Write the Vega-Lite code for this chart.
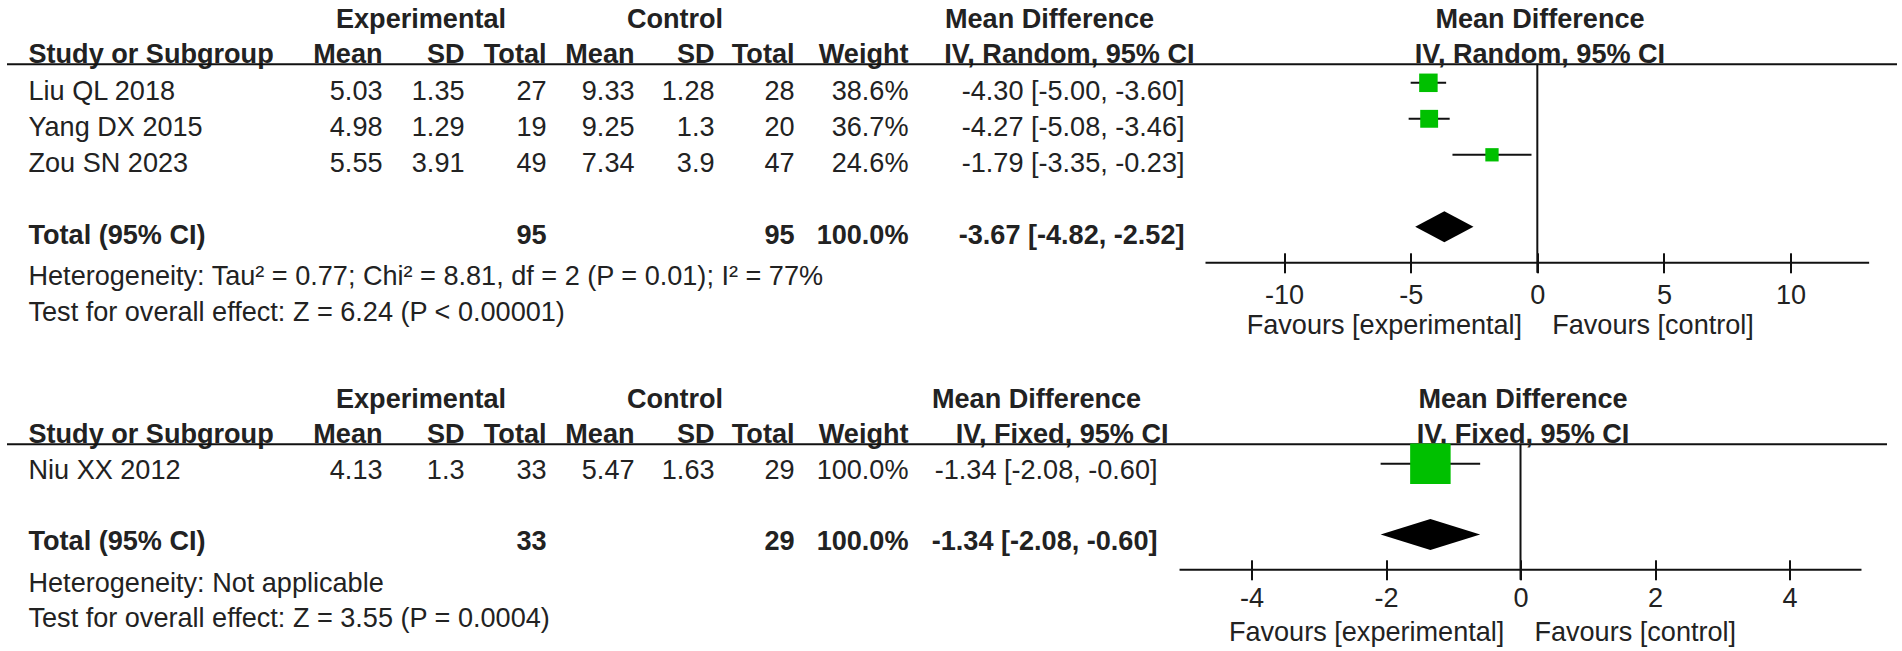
{
  "$schema": "https://vega.github.io/schema/vega-lite/v6.json",
  "padding": {"left": 6.5, "top": 4.8, "right": 0, "bottom": 0},
  "background": "white",
  "columns": 6,
  "align": {"row": "all", "column": "none"},
  "bounds": "flush",
  "spacing": {"row": 91, "column": 0},
  "resolve": {"scale": {"size": "independent"}},
  "datasets": {
    "top": [
      {"label": "Liu QL 2018", "meanE": 5.03, "sdE": 1.35, "totalE": 27, "meanC": 9.33, "sdC": 1.28, "totalC": 28, "weight": 0.386, "md": -4.3, "lo": -5.0, "hi": -3.6, "ci": "-4.30 [-5.00, -3.60]"},
      {"label": "Yang DX 2015", "meanE": 4.98, "sdE": 1.29, "totalE": 19, "meanC": 9.25, "sdC": 1.3, "totalC": 20, "weight": 0.367, "md": -4.27, "lo": -5.08, "hi": -3.46, "ci": "-4.27 [-5.08, -3.46]"},
      {"label": "Zou SN 2023", "meanE": 5.55, "sdE": 3.91, "totalE": 49, "meanC": 7.34, "sdC": 3.9, "totalC": 47, "weight": 0.246, "md": -1.79, "lo": -3.35, "hi": -0.23, "ci": "-1.79 [-3.35, -0.23]"}
    ],
    "topTotal": [
      {"label": "Total (95% CI)", "totalE": 95, "totalC": 95, "weight": 1, "md": -3.67, "lo": -4.82, "hi": -2.52, "ci": "-3.67 [-4.82, -2.52]"}
    ],
    "topNotes": [
      {"key": "het", "label": "Heterogeneity: Tau² = 0.77; Chi² = 8.81, df = 2 (P = 0.01); I² = 77%"},
      {"key": "test", "label": "Test for overall effect: Z = 6.24 (P < 0.00001)"}
    ],
    "bot": [
      {"label": "Niu XX 2012", "meanE": 4.13, "sdE": 1.3, "totalE": 33, "meanC": 5.47, "sdC": 1.63, "totalC": 29, "weight": 1, "md": -1.34, "lo": -2.08, "hi": -0.6, "ci": "-1.34 [-2.08, -0.60]"}
    ],
    "botTotal": [
      {"label": "Total (95% CI)", "totalE": 33, "totalC": 29, "weight": 1, "md": -1.34, "lo": -2.08, "hi": -0.6, "ci": "-1.34 [-2.08, -0.60]"}
    ],
    "botNotes": [
      {"key": "het", "label": "Heterogeneity: Not applicable"},
      {"key": "test", "label": "Test for overall effect: Z = 3.55 (P = 0.0004)"}
    ]
  },
  "concat": [
    {
      "width": 294, "height": 289,
      "encoding": {
        "x": {"field": "col", "type": "nominal", "bandPosition": 0,
          "scale": {"type": "band", "domain": ["label"], "paddingInner": 0, "paddingOuter": 0},
          "axis": {"orient": "top", "domainWidth": 2, "ticks": false, "tickSize": 0, "labelExpr": "'Study or Subgroup'", "labelAlign": "left", "labelBaseline": "alphabetic", "labelPadding": 1.3, "labelOffset": -125, "labelFontWeight": "bold", "title": null}},
        "y": {"field": "label", "type": "nominal", "scale": {"type": "point", "domain": ["Liu QL 2018", "Yang DX 2015", "Zou SN 2023", "gap", "Total (95% CI)", "het", "test"], "padding": 1.1}, "axis": null}
      },
      "layer": [
        {"data": {"name": "top"}, "transform": [{"fold": ["label"], "as": ["col", "value"]}],
         "mark": {"type": "text", "align": "left", "dx": 22},
         "encoding": {"text": {"field": "value", "type": "nominal"}}},
        {"data": {"name": "topTotal"}, "transform": [{"fold": ["label"], "as": ["col", "value"]}],
         "mark": {"type": "text", "align": "left", "dx": 22, "fontWeight": "bold"},
         "encoding": {"text": {"field": "value", "type": "nominal"}}},
        {"data": {"name": "topNotes"}, "transform": [{"fold": ["label"], "as": ["col", "value"]}],
         "mark": {"type": "text", "align": "left", "dx": 22, "dy": 4},
         "encoding": {"y": {"field": "key", "type": "nominal", "axis": null}, "text": {"field": "value", "type": "nominal"}}}
      ]
    },
    {
      "width": 246, "height": 289,
      "encoding": {
        "x": {"field": "col", "type": "nominal", "bandPosition": 1,
          "scale": {"type": "band", "domain": ["meanE", "sdE", "totalE"], "paddingInner": 0, "paddingOuter": 0},
          "axis": {"orient": "top", "domainWidth": 2, "ticks": false, "tickSize": 0, "labelExpr": "datum.value == 'meanE' ? 'Mean' : datum.value == 'sdE' ? 'SD' : 'Total'", "labelAlign": "right", "labelBaseline": "alphabetic", "labelPadding": 1.3, "labelOffset": 41, "labelFontWeight": "bold", "title": "Experimental", "titleBaseline": "alphabetic", "titleAlign": "center", "titleX": 120, "titleY": -36.7}},
        "y": {"field": "label", "type": "nominal", "scale": {"type": "point", "domain": ["Liu QL 2018", "Yang DX 2015", "Zou SN 2023", "gap", "Total (95% CI)", "het", "test"], "padding": 1.1}, "axis": null}
      },
      "layer": [
        {"data": {"name": "top"}, "transform": [{"fold": ["meanE", "sdE", "totalE"], "as": ["col", "value"]}],
         "mark": {"type": "text", "align": "right"},
         "encoding": {"text": {"field": "value", "type": "nominal"}}},
        {"data": {"name": "topTotal"}, "transform": [{"fold": ["totalE"], "as": ["col", "value"]}],
         "mark": {"type": "text", "align": "right", "fontWeight": "bold"},
         "encoding": {"text": {"field": "value", "type": "nominal"}}}
      ]
    },
    {
      "width": 250, "height": 289,
      "encoding": {
        "x": {"field": "col", "type": "nominal", "bandPosition": 1,
          "scale": {"type": "band", "domain": ["meanC", "sdC", "totalC"], "paddingInner": 0, "paddingOuter": 0.0625, "align": 0.8},
          "axis": {"orient": "top", "domainWidth": 2, "ticks": false, "tickSize": 0, "labelExpr": "datum.value == 'meanC' ? 'Mean' : datum.value == 'sdC' ? 'SD' : 'Total'", "labelAlign": "right", "labelBaseline": "alphabetic", "labelPadding": 1.3, "labelOffset": 40, "labelFontWeight": "bold", "title": "Control", "titleBaseline": "alphabetic", "titleAlign": "center", "titleX": 128, "titleY": -36.7}},
        "y": {"field": "label", "type": "nominal", "scale": {"type": "point", "domain": ["Liu QL 2018", "Yang DX 2015", "Zou SN 2023", "gap", "Total (95% CI)", "het", "test"], "padding": 1.1}, "axis": null}
      },
      "layer": [
        {"data": {"name": "top"}, "transform": [{"fold": ["meanC", "sdC", "totalC"], "as": ["col", "value"]}],
         "mark": {"type": "text", "align": "right"},
         "encoding": {"text": {"field": "value", "type": "nominal"}}},
        {"data": {"name": "topTotal"}, "transform": [{"fold": ["totalC"], "as": ["col", "value"]}],
         "mark": {"type": "text", "align": "right", "fontWeight": "bold"},
         "encoding": {"text": {"field": "value", "type": "nominal"}}}
      ]
    },
    {
      "width": 112, "height": 289,
      "encoding": {
        "x": {"field": "col", "type": "nominal", "bandPosition": 1,
          "scale": {"type": "band", "domain": ["weight"], "paddingInner": 0, "paddingOuter": 0},
          "axis": {"orient": "top", "domainWidth": 2, "ticks": false, "tickSize": 0, "labelExpr": "'Weight'", "labelAlign": "right", "labelBaseline": "alphabetic", "labelPadding": 1.3, "labelOffset": 56, "labelFontWeight": "bold", "title": null}},
        "y": {"field": "label", "type": "nominal", "scale": {"type": "point", "domain": ["Liu QL 2018", "Yang DX 2015", "Zou SN 2023", "gap", "Total (95% CI)", "het", "test"], "padding": 1.1}, "axis": null}
      },
      "layer": [
        {"data": {"name": "top"}, "transform": [{"fold": ["weight"], "as": ["col", "value"]}],
         "mark": {"type": "text", "align": "right"},
         "encoding": {"text": {"field": "value", "type": "quantitative", "format": ".1%"}}},
        {"data": {"name": "topTotal"}, "transform": [{"fold": ["weight"], "as": ["col", "value"]}],
         "mark": {"type": "text", "align": "right", "fontWeight": "bold"},
         "encoding": {"text": {"field": "value", "type": "quantitative", "format": ".1%"}}}
      ]
    },
    {
      "width": 297, "height": 289,
      "encoding": {
        "x": {"field": "col", "type": "nominal", "bandPosition": 1,
          "scale": {"type": "band", "domain": ["ci"], "paddingInner": 0, "paddingOuter": 0.03804, "align": 0},
          "axis": {"orient": "top", "domainWidth": 2, "ticks": false, "tickSize": 0, "labelExpr": "'IV, Random, 95% CI'", "labelAlign": "right", "labelBaseline": "alphabetic", "labelPadding": 1.3, "labelOffset": 148, "labelFontWeight": "bold", "title": "Mean Difference", "titleBaseline": "alphabetic", "titleAlign": "left", "titleX": 36, "titleY": -36.7}},
        "y": {"field": "label", "type": "nominal", "scale": {"type": "point", "domain": ["Liu QL 2018", "Yang DX 2015", "Zou SN 2023", "gap", "Total (95% CI)", "het", "test"], "padding": 1.1}, "axis": null}
      },
      "layer": [
        {"data": {"name": "top"}, "transform": [{"fold": ["ci"], "as": ["col", "value"]}],
         "mark": {"type": "text", "align": "right"},
         "encoding": {"text": {"field": "value", "type": "nominal"}}},
        {"data": {"name": "topTotal"}, "transform": [{"fold": ["ci"], "as": ["col", "value"]}],
         "mark": {"type": "text", "align": "right", "fontWeight": "bold"},
         "encoding": {"text": {"field": "value", "type": "nominal"}}}
      ]
    },
    {
      "width": 691, "height": 209,
      "resolve": {"axis": {"x": "independent"}},
      "layer": [
        {
          "data": {"name": "topTotal"},
          "mark": {"type": "rule", "strokeWidth": 2, "color": "#111111"},
          "encoding": {
            "x": {"datum": 0, "type": "quantitative",
              "scale": {"domain": [-13.1, 14.18], "nice": false, "zero": false},
              "axis": {"orient": "top", "domainWidth": 2, "labels": false, "ticks": false, "tickSize": 0, "grid": false, "title": ["Mean Difference", "IV, Random, 95% CI"], "titleBaseline": "alphabetic", "titleAlign": "center", "titleX": 334, "titleY": -36.7, "titleLineHeight": 35.4}}
          }
        },
        {
          "data": {"name": "topTotal"},
          "mark": {"type": "rule", "strokeWidth": 2, "color": "#111111"},
          "encoding": {
            "x": {"datum": -13.1, "type": "quantitative",
              "axis": {"orient": "bottom", "values": [-10, -5, 0, 5, 10], "labelExpr": "'' + datum.value", "domain": false, "ticks": true, "tickSize": 20, "tickWidth": 2, "tickColor": "#111111", "offset": -20, "labelBaseline": "alphabetic", "labelPadding": 30.4, "labelFontWeight": "normal", "grid": false, "title": "Favours [experimental]\u00a0\u00a0\u00a0\u00a0Favours [control]", "titleFontWeight": "normal", "titleBaseline": "alphabetic", "titleAlign": "center", "titleX": 294.3, "titleY": 80.9}},
            "x2": {"datum": 13.1},
            "y": {"datum": "axis", "type": "nominal",
              "scale": {"type": "point", "domain": ["Liu QL 2018", "Yang DX 2015", "Zou SN 2023", "gap", "Total (95% CI)", "axis"], "padding": 0.4028, "align": 0.6552},
              "axis": null}
          }
        },
        {
          "data": {"name": "top"},
          "mark": {"type": "rule", "strokeWidth": 2, "color": "#111111"},
          "encoding": {
            "x": {"field": "lo", "type": "quantitative", "axis": null},
            "x2": {"field": "hi"},
            "y": {"field": "label", "type": "nominal", "axis": null}
          }
        },
        {
          "data": {"name": "top"},
          "mark": {"type": "point", "shape": "square", "filled": true, "color": "#00c000", "opacity": 1},
          "encoding": {
            "x": {"field": "md", "type": "quantitative", "axis": null},
            "y": {"field": "label", "type": "nominal", "axis": null},
            "size": {"field": "weight", "type": "quantitative", "scale": {"domain": [0.246, 0.386], "range": [177, 342], "zero": false}, "legend": null}
          }
        },
        {
          "data": {"name": "topTotal"},
          "mark": {"type": "point", "shape": "M -1 0 L 0 -0.532 L 1 0 L 0 0.532 Z", "size": 3394, "filled": true, "color": "#000000", "opacity": 1},
          "encoding": {
            "x": {"field": "md", "type": "quantitative", "axis": null},
            "y": {"field": "label", "type": "nominal", "axis": null}
          }
        }
      ]
    },
    {
      "width": 294, "height": 213,
      "encoding": {
        "x": {"field": "col", "type": "nominal", "bandPosition": 0,
          "scale": {"type": "band", "domain": ["label"], "paddingInner": 0, "paddingOuter": 0},
          "axis": {"orient": "top", "domainWidth": 2, "ticks": false, "tickSize": 0, "labelExpr": "'Study or Subgroup'", "labelAlign": "left", "labelBaseline": "alphabetic", "labelPadding": 1.3, "labelOffset": -125, "labelFontWeight": "bold", "title": null}},
        "y": {"field": "label", "type": "nominal", "scale": {"type": "point", "domain": ["Niu XX 2012", "gap", "Total (95% CI)", "het", "test"], "padding": 1.1095}, "axis": null}
      },
      "layer": [
        {"data": {"name": "bot"}, "transform": [{"fold": ["label"], "as": ["col", "value"]}],
         "mark": {"type": "text", "align": "left", "dx": 22},
         "encoding": {"text": {"field": "value", "type": "nominal"}}},
        {"data": {"name": "botTotal"}, "transform": [{"fold": ["label"], "as": ["col", "value"]}],
         "mark": {"type": "text", "align": "left", "dx": 22, "fontWeight": "bold"},
         "encoding": {"text": {"field": "value", "type": "nominal"}}},
        {"data": {"name": "botNotes"}, "transform": [{"fold": ["label"], "as": ["col", "value"]}],
         "mark": {"type": "text", "align": "left", "dx": 22, "dy": 6},
         "encoding": {"y": {"field": "key", "type": "nominal", "axis": null}, "text": {"field": "value", "type": "nominal"}}}
      ]
    },
    {
      "width": 246, "height": 213,
      "encoding": {
        "x": {"field": "col", "type": "nominal", "bandPosition": 1,
          "scale": {"type": "band", "domain": ["meanE", "sdE", "totalE"], "paddingInner": 0, "paddingOuter": 0},
          "axis": {"orient": "top", "domainWidth": 2, "ticks": false, "tickSize": 0, "labelExpr": "datum.value == 'meanE' ? 'Mean' : datum.value == 'sdE' ? 'SD' : 'Total'", "labelAlign": "right", "labelBaseline": "alphabetic", "labelPadding": 1.3, "labelOffset": 41, "labelFontWeight": "bold", "title": "Experimental", "titleBaseline": "alphabetic", "titleAlign": "center", "titleX": 120, "titleY": -36.7}},
        "y": {"field": "label", "type": "nominal", "scale": {"type": "point", "domain": ["Niu XX 2012", "gap", "Total (95% CI)", "het", "test"], "padding": 1.1095}, "axis": null}
      },
      "layer": [
        {"data": {"name": "bot"}, "transform": [{"fold": ["meanE", "sdE", "totalE"], "as": ["col", "value"]}],
         "mark": {"type": "text", "align": "right"},
         "encoding": {"text": {"field": "value", "type": "nominal"}}},
        {"data": {"name": "botTotal"}, "transform": [{"fold": ["totalE"], "as": ["col", "value"]}],
         "mark": {"type": "text", "align": "right", "fontWeight": "bold"},
         "encoding": {"text": {"field": "value", "type": "nominal"}}}
      ]
    },
    {
      "width": 250, "height": 213,
      "encoding": {
        "x": {"field": "col", "type": "nominal", "bandPosition": 1,
          "scale": {"type": "band", "domain": ["meanC", "sdC", "totalC"], "paddingInner": 0, "paddingOuter": 0.0625, "align": 0.8},
          "axis": {"orient": "top", "domainWidth": 2, "ticks": false, "tickSize": 0, "labelExpr": "datum.value == 'meanC' ? 'Mean' : datum.value == 'sdC' ? 'SD' : 'Total'", "labelAlign": "right", "labelBaseline": "alphabetic", "labelPadding": 1.3, "labelOffset": 40, "labelFontWeight": "bold", "title": "Control", "titleBaseline": "alphabetic", "titleAlign": "center", "titleX": 128, "titleY": -36.7}},
        "y": {"field": "label", "type": "nominal", "scale": {"type": "point", "domain": ["Niu XX 2012", "gap", "Total (95% CI)", "het", "test"], "padding": 1.1095}, "axis": null}
      },
      "layer": [
        {"data": {"name": "bot"}, "transform": [{"fold": ["meanC", "sdC", "totalC"], "as": ["col", "value"]}],
         "mark": {"type": "text", "align": "right"},
         "encoding": {"text": {"field": "value", "type": "nominal"}}},
        {"data": {"name": "botTotal"}, "transform": [{"fold": ["totalC"], "as": ["col", "value"]}],
         "mark": {"type": "text", "align": "right", "fontWeight": "bold"},
         "encoding": {"text": {"field": "value", "type": "nominal"}}}
      ]
    },
    {
      "width": 112, "height": 213,
      "encoding": {
        "x": {"field": "col", "type": "nominal", "bandPosition": 1,
          "scale": {"type": "band", "domain": ["weight"], "paddingInner": 0, "paddingOuter": 0},
          "axis": {"orient": "top", "domainWidth": 2, "ticks": false, "tickSize": 0, "labelExpr": "'Weight'", "labelAlign": "right", "labelBaseline": "alphabetic", "labelPadding": 1.3, "labelOffset": 56, "labelFontWeight": "bold", "title": null}},
        "y": {"field": "label", "type": "nominal", "scale": {"type": "point", "domain": ["Niu XX 2012", "gap", "Total (95% CI)", "het", "test"], "padding": 1.1095}, "axis": null}
      },
      "layer": [
        {"data": {"name": "bot"}, "transform": [{"fold": ["weight"], "as": ["col", "value"]}],
         "mark": {"type": "text", "align": "right"},
         "encoding": {"text": {"field": "value", "type": "quantitative", "format": ".1%"}}},
        {"data": {"name": "botTotal"}, "transform": [{"fold": ["weight"], "as": ["col", "value"]}],
         "mark": {"type": "text", "align": "right", "fontWeight": "bold"},
         "encoding": {"text": {"field": "value", "type": "quantitative", "format": ".1%"}}}
      ]
    },
    {
      "width": 297, "height": 213,
      "encoding": {
        "x": {"field": "col", "type": "nominal", "bandPosition": 1,
          "scale": {"type": "band", "domain": ["ci"], "paddingInner": 0, "paddingOuter": 0.09639, "align": 0},
          "axis": {"orient": "top", "domainWidth": 2, "ticks": false, "tickSize": 0, "labelExpr": "'IV, Fixed, 95% CI'", "labelAlign": "right", "labelBaseline": "alphabetic", "labelPadding": 1.3, "labelOffset": 135.5, "labelFontWeight": "bold", "title": "Mean Difference", "titleBaseline": "alphabetic", "titleAlign": "left", "titleX": 23, "titleY": -36.7}},
        "y": {"field": "label", "type": "nominal", "scale": {"type": "point", "domain": ["Niu XX 2012", "gap", "Total (95% CI)", "het", "test"], "padding": 1.1095}, "axis": null}
      },
      "layer": [
        {"data": {"name": "bot"}, "transform": [{"fold": ["ci"], "as": ["col", "value"]}],
         "mark": {"type": "text", "align": "right"},
         "encoding": {"text": {"field": "value", "type": "nominal"}}},
        {"data": {"name": "botTotal"}, "transform": [{"fold": ["ci"], "as": ["col", "value"]}],
         "mark": {"type": "text", "align": "right", "fontWeight": "bold"},
         "encoding": {"text": {"field": "value", "type": "nominal"}}}
      ]
    },
    {
      "width": 681, "height": 136,
      "resolve": {"axis": {"x": "independent"}},
      "layer": [
        {
          "data": {"name": "botTotal"},
          "mark": {"type": "rule", "strokeWidth": 2, "color": "#111111"},
          "encoding": {
            "x": {"datum": 0, "type": "quantitative",
              "scale": {"domain": [-4.684, 5.442], "nice": false, "zero": false},
              "axis": {"orient": "top", "domainWidth": 2, "labels": false, "ticks": false, "tickSize": 0, "grid": false, "title": ["Mean Difference", "IV, Fixed, 95% CI"], "titleBaseline": "alphabetic", "titleAlign": "center", "titleX": 317, "titleY": -36.7, "titleLineHeight": 35.6}}
          }
        },
        {
          "data": {"name": "botTotal"},
          "mark": {"type": "rule", "strokeWidth": 2, "color": "#111111"},
          "encoding": {
            "x": {"datum": -5.07, "type": "quantitative",
              "axis": {"orient": "bottom", "values": [-4, -2, 0, 2, 4], "labelExpr": "'' + datum.value", "domain": false, "ticks": true, "tickSize": 20, "tickWidth": 2, "tickColor": "#111111", "offset": -20, "labelBaseline": "alphabetic", "labelPadding": 27, "labelFontWeight": "normal", "grid": false, "title": "Favours [experimental]\u00a0\u00a0\u00a0\u00a0Favours [control]", "titleFontWeight": "normal", "titleBaseline": "alphabetic", "titleAlign": "center", "titleX": 276.5, "titleY": 80.6}},
            "x2": {"datum": 5.07},
            "y": {"datum": "axis", "type": "nominal",
              "scale": {"type": "point", "domain": ["Niu XX 2012", "gap", "Total (95% CI)", "axis"], "padding": 0.4245, "align": 0.6667},
              "axis": null}
          }
        },
        {
          "data": {"name": "bot"},
          "mark": {"type": "rule", "strokeWidth": 2, "color": "#111111"},
          "encoding": {
            "x": {"field": "lo", "type": "quantitative", "axis": null},
            "x2": {"field": "hi"},
            "y": {"field": "label", "type": "nominal", "axis": null}
          }
        },
        {
          "data": {"name": "bot"},
          "mark": {"type": "point", "shape": "square", "filled": true, "color": "#00c000", "opacity": 1},
          "encoding": {
            "x": {"field": "md", "type": "quantitative", "axis": null},
            "y": {"field": "label", "type": "nominal", "axis": null},
            "size": {"field": "weight", "type": "quantitative", "scale": {"domain": [0, 1], "range": [0, 1640]}, "legend": null}
          }
        },
        {
          "data": {"name": "botTotal"},
          "mark": {"type": "point", "shape": "M -1 0 L 0 -0.3115 L 1 0 L 0 0.3115 Z", "size": 9906, "filled": true, "color": "#000000", "opacity": 1},
          "encoding": {
            "x": {"field": "md", "type": "quantitative", "axis": null},
            "y": {"field": "label", "type": "nominal", "axis": null}
          }
        }
      ]
    }
  ],
  "config": {
    "view": {"stroke": null},
    "text": {"font": "Liberation Sans", "fontSize": 27.1, "color": "#222222", "baseline": "alphabetic"},
    "axis": {"labelFont": "Liberation Sans", "titleFont": "Liberation Sans", "labelFontSize": 27.1, "titleFontSize": 27.1, "labelColor": "#222222", "titleColor": "#222222", "domainColor": "#111111", "tickColor": "#111111", "labelLimit": 2000, "titleLimit": 2000, "grid": false, "labelAngle": 0}
  }
}
